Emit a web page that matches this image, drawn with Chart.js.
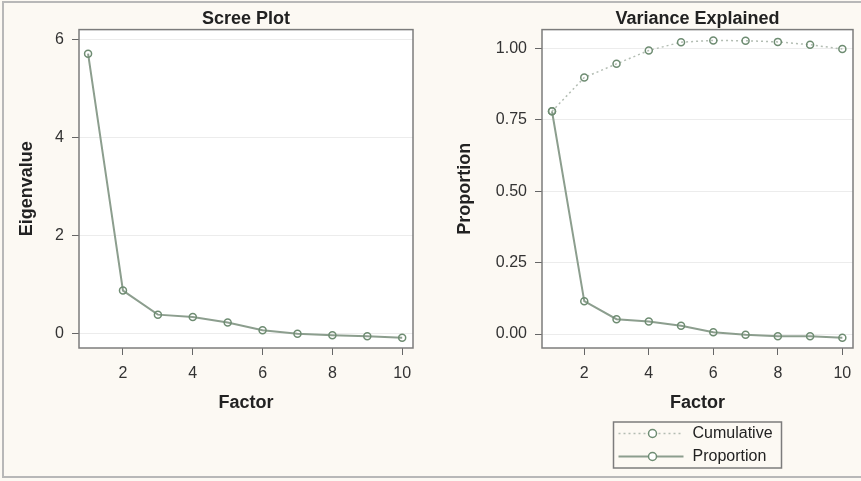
<!DOCTYPE html>
<html>
<head>
<meta charset="utf-8">
<script src="https://cdn.jsdelivr.net/npm/chart.js@4.4.1/dist/chart.umd.min.js"></script>
<style>
  html, body { margin: 0; padding: 0; background: #fcf9f3; }
  #wrap { position: relative; width: 861px; height: 481px; overflow: hidden; }
  #wrap canvas { position: absolute; top: 0; }
  #left { left: 0; }
  #right { left: 430px; }
  #frame { position: absolute; left: 2px; top: 1px; width: 880px; height: 473px;
           border: 2px solid #b8b8b8; pointer-events: none; }
</style>
</head>
<body>
<div id="wrap">
  <canvas id="left" width="430" height="481"></canvas>
  <canvas id="right" width="431" height="481"></canvas>
  <div id="frame"></div>
</div>
<script>
// values
const factors = [1, 2, 3, 4, 5, 6, 7, 8, 9, 10];
const eigenvalues = [5.71, 0.88, 0.39, 0.34, 0.23, 0.07, 0.0, -0.03, -0.05, -0.08];
const proportion = [0.78, 0.115, 0.052, 0.044, 0.029, 0.006, -0.003, -0.008, -0.008, -0.013];
const cumulative = [0.78, 0.898, 0.946, 0.993, 1.022, 1.028, 1.027, 1.023, 1.013, 0.998];

const factorTicks = [2, 4, 6, 8, 10];
const eigenTicks = [0, 2, 4, 6];
const propTicks = [0, 0.25, 0.5, 0.75, 1.0];

const FONT = '"Liberation Sans", Arial, sans-serif';
const LINE = '#8c9e8e';
const MARK = '#6e8c72';

Chart.defaults.font.family = FONT;
Chart.defaults.animation = false;

const xy = (ys) => factors.map((f, i) => ({ x: f, y: ys[i] }));

// white plot area + grey frame around it
const plotFrame = {
  id: 'plotFrame',
  beforeDraw(chart) {
    const { ctx, chartArea: a } = chart;
    ctx.save();
    ctx.fillStyle = '#ffffff';
    ctx.fillRect(a.left, a.top, a.right - a.left, a.bottom - a.top);
    ctx.restore();
  },
  afterDraw(chart) {
    const { ctx, chartArea: a } = chart;
    ctx.save();
    ctx.strokeStyle = '#7c7c7c';
    ctx.lineWidth = 1.5;
    ctx.strokeRect(a.left, a.top, a.right - a.left, a.bottom - a.top);
    ctx.restore();
  }
};

// boxed legend under the x axis title, line sample with marker
const legendBox = {
  id: 'legendBox',
  afterDraw(chart) {
    const { ctx, chartArea: a } = chart;
    const w = 168, h = 46;
    const x0 = (a.left + a.right) / 2 - w / 2;
    const y0 = a.bottom + 74;
    ctx.save();
    ctx.strokeStyle = '#7c7c7c';
    ctx.lineWidth = 1.5;
    ctx.strokeRect(x0, y0, w, h);
    chart.data.datasets.forEach((ds, i) => {
      const y = y0 + 11.5 + i * 23;
      ctx.strokeStyle = ds.borderColor;
      ctx.lineWidth = ds.borderWidth;
      ctx.setLineDash(ds.borderDash || []);
      ctx.beginPath();
      ctx.moveTo(x0 + 5, y);
      ctx.lineTo(x0 + 70, y);
      ctx.stroke();
      ctx.setLineDash([]);
      ctx.beginPath();
      ctx.arc(x0 + 39, y, ds.pointRadius + 0.5, 0, Math.PI * 2);
      ctx.fillStyle = '#ffffff';
      ctx.fill();
      ctx.strokeStyle = ds.pointBorderColor;
      ctx.lineWidth = ds.pointBorderWidth;
      ctx.stroke();
      ctx.fillStyle = '#222';
      ctx.font = '16px ' + FONT;
      ctx.textBaseline = 'middle';
      ctx.fillText(ds.label, x0 + 79, y);
    });
    ctx.restore();
  }
};

function series(label, ys, dash, color) {
  return {
    label,
    data: xy(ys),
    borderColor: color,
    borderWidth: dash ? 1.5 : 2,
    borderDash: dash || [],
    pointRadius: 3.5,
    pointBorderWidth: 1.5,
    pointBorderColor: MARK,
    pointBackgroundColor: 'rgba(255,255,255,0)',
    tension: 0
  };
}

function makeOptions(o) {
  return {
    responsive: false,
    layout: { padding: { left: o.padLeft, right: o.padRight, top: 0, bottom: 63 } },
    plugins: {
      legend: { display: false },
      tooltip: { enabled: false },
      title: {
        display: true, text: o.title, fullSize: false, color: '#222',
        font: { size: 18, weight: 'bold' }, padding: { top: 8, bottom: 0 }
      }
    },
    scales: {
      x: {
        type: 'linear', min: o.xMin, max: o.xMax, bounds: 'data',
        afterBuildTicks: s => { s.ticks = factorTicks.map(v => ({ value: v })); },
        afterFit: s => { s.height = 70; },
        ticks: { color: '#333', font: { size: 16 }, padding: 9, maxRotation: 0 },
        grid: { drawOnChartArea: false, tickColor: '#666', tickLength: 7 },
        border: { display: false },
        title: { display: true, text: 'Factor', color: '#222', font: { size: 18, weight: 'bold' } }
      },
      y: {
        min: o.yMin, max: o.yMax, bounds: 'data',
        afterBuildTicks: s => { s.ticks = o.yTicks.map(v => ({ value: v })); },
        afterFit: s => { s.width = o.yWidth; },
        ticks: { color: '#333', font: { size: 16 }, padding: 8, callback: o.fmt },
        grid: { color: '#ececec', tickColor: '#666', tickLength: 7 },
        border: { display: false },
        title: { display: true, text: o.yTitle, color: '#222', font: { size: 18, weight: 'bold' } }
      }
    }
  };
}

new Chart(document.getElementById('left'), {
  type: 'line',
  data: { datasets: [series('Eigenvalue', eigenvalues, null, LINE)] },
  options: makeOptions({
    title: 'Scree Plot', yTitle: 'Eigenvalue',
    xMin: 0.74, xMax: 10.31, yMin: -0.29, yMax: 6.2, yTicks: eigenTicks,
    fmt: v => String(v), padLeft: 12, padRight: 17, yWidth: 67
  }),
  plugins: [plotFrame]
});

new Chart(document.getElementById('right'), {
  type: 'line',
  data: {
    datasets: [
      series('Cumulative', cumulative, [2, 3], '#b3bdb3'),
      series('Proportion', proportion, null, LINE)
    ]
  },
  options: makeOptions({
    title: 'Variance Explained', yTitle: 'Proportion',
    xMin: 0.69, xMax: 10.33, yMin: -0.049, yMax: 1.066, yTicks: propTicks,
    fmt: v => v.toFixed(2), padLeft: 20, padRight: 8, yWidth: 92
  }),
  plugins: [plotFrame, legendBox]
});
</script>
</body>
</html>
